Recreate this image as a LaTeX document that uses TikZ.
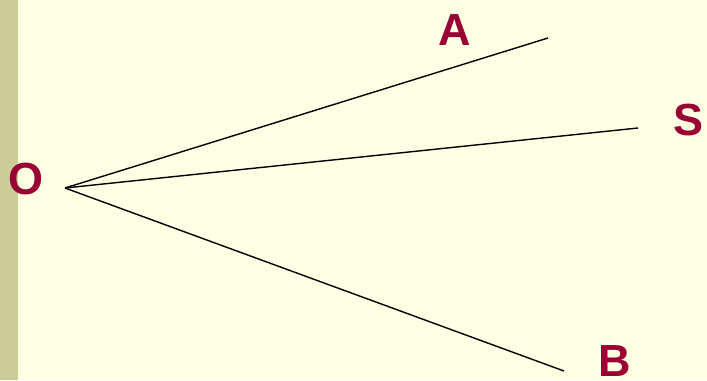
\documentclass[tikz,border=0pt]{standalone}
\usepackage{fontspec}
\setmainfont{Liberation Sans}
\usetikzlibrary{positioning}

\definecolor{paper}{HTML}{FFFFE3}
\definecolor{strip}{HTML}{CCCC99}
\definecolor{wine}{HTML}{990033}

\begin{document}
\begin{tikzpicture}[
    x=0.025cm, y=-0.025cm,
    ray/.style={line width=1pt, black},
    lab/.style={inner sep=0pt, text=wine,
                font=\fontsize{32}{36}\selectfont\bfseries}
]

% background and side strip
\fill[paper] (0,0) rectangle (707,380);
\fill[strip] (0,0) rectangle (18,380);
\useasboundingbox (0,0) rectangle (707,380);

% points
\coordinate (o) at (65,188);
\coordinate (a) at (548,38);
\coordinate (s) at (638,128);
\coordinate (b) at (564,371);

% labels
\node[lab] (O) at (26,179)  {O};
\node[lab] (A) at (455,30)  {A};
\node[lab] (S) at (688,120) {S};
\node[lab] (B) at (615,361) {B};

% rays
\draw[ray] (o) -- (a);
\draw[ray] (o) -- (s);
\draw[ray] (o) -- (b);

\end{tikzpicture}
\end{document}
